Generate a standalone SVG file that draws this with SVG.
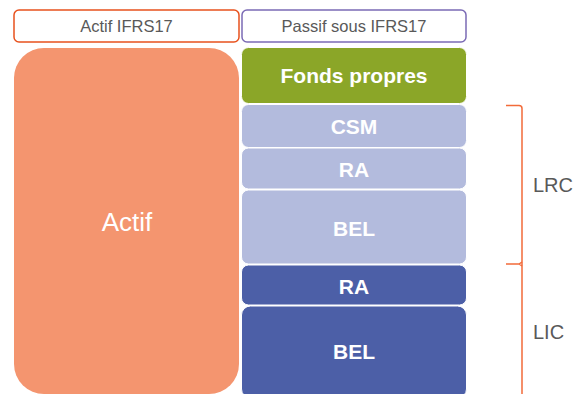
<svg xmlns="http://www.w3.org/2000/svg" width="576" height="394" viewBox="0 0 576 394">
<style>
  text { font-family: "Liberation Sans", Arial, sans-serif; text-anchor: middle; }
  .hdr { font-size: 16.5px; fill: #595959; }
  .lbl { font-size: 21px; font-weight: bold; fill: #ffffff; }
  .side { font-size: 20px; fill: #595959; text-anchor: start; }
  .blk { stroke: #ffffff; stroke-width: 1; }
  .light { fill: #B3BBDD; }
  .dark { fill: #4C5FA7; }
  .brace { fill: none; stroke: #F26B3A; stroke-width: 1.5; }
</style>
<rect width="576" height="394" fill="#ffffff"/>
<g id="hdr-actif">
  <rect x="14" y="10" width="225" height="32" rx="5" fill="#ffffff" stroke="#E8521E" stroke-width="1.5"/>
  <text class="hdr" x="126.5" y="32">Actif IFRS17</text>
</g>
<g id="hdr-passif">
  <rect x="242" y="10" width="224" height="32" rx="5" fill="#ffffff" stroke="#7B6BB5" stroke-width="1.5"/>
  <text class="hdr" x="354" y="32">Passif sous IFRS17</text>
</g>
<g id="actif">
  <rect x="14" y="48" width="225" height="346" rx="30" fill="#F4956F"/>
  <text x="127" y="231" style="font-size:26px;fill:#ffffff">Actif</text>
</g>
<g id="fonds-propres">
  <rect class="blk" x="241.5" y="47.5" width="225" height="56" rx="7" fill="#8BA628"/>
  <text class="lbl" x="354" y="83">Fonds propres</text>
</g>
<g id="csm">
  <rect class="blk light" x="241.5" y="104.5" width="225" height="43" rx="7"/>
  <text class="lbl" x="354" y="134">CSM</text>
</g>
<g id="ra-lrc">
  <rect class="blk light" x="241.5" y="148" width="225" height="41" rx="7"/>
  <text class="lbl" x="354" y="177">RA</text>
</g>
<g id="bel-lrc">
  <rect class="blk light" x="241.5" y="190" width="225" height="74" rx="7"/>
  <text class="lbl" x="354" y="236">BEL</text>
</g>
<g id="ra-lic">
  <rect class="blk dark" x="241.5" y="265" width="225" height="40" rx="7"/>
  <text class="lbl" x="354" y="294">RA</text>
</g>
<g id="bel-lic">
  <rect class="blk dark" x="241.5" y="306" width="225" height="92" rx="9"/>
  <text class="lbl" x="354" y="359">BEL</text>
</g>
<g id="connectors">
  <path class="brace" d="M506 105.5 L519 105.5 Q522 105.5 522 108.5 L522 394"/>
  <path class="brace" d="M506 264 L519 264 L522 262 M519 264 L522 266"/>
</g>
<g id="lrc"><text class="side" x="533" y="192">LRC</text></g>
<g id="lic"><text class="side" x="533" y="339">LIC</text></g>
</svg>
